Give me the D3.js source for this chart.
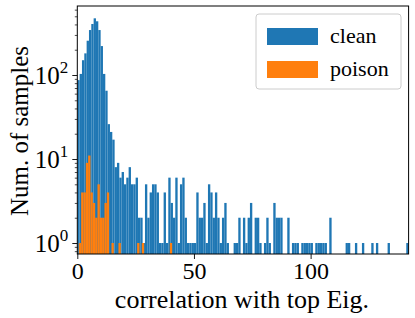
<!DOCTYPE html>
<html>
<head>
<meta charset="utf-8">
<script src="https://cdn.jsdelivr.net/npm/d3@7"></script>
<style>
  html, body { margin: 0; padding: 0; background: #fff; }
  svg { display: block; }
  text { font-family: "Liberation Serif", "Times New Roman", serif; fill: #000; }
</style>
</head>
<body>
<svg id="chart" width="415" height="318"></svg>
<script>
// ---- data ----
// clean histogram: counts per bin (bin width 1, starting at cleanStart)
const cleanStart = 0.0;
const cleanCounts = [
  87,103,150,181,256,343,405,473,436,343,
  221,103,65,26,21,17,8,9,6,7,
  5,6,8,5,5,6,2,2,1,5,
  2,4,5,5,4,1,1,4,1,6,
  3,2,6,1,5,6,2,1,1,1,
  1,4,2,2,3,1,5,4,2,4,
  2,1,2,3,1,0,0,1,1,2,
  0,2,1,2,3,0,2,2,1,0,
  1,2,1,0,3,2,2,2,0,0,
  2,0,1,1,1,0,1,1,1,1,
  1,0,1,1,1,1,1,0,2,0,
  0,0,0,0,0,1,1,0,0,1,
  0,0,1,0,0,0,1,0,1,0,
  0,0,0,1,0,0,0,0,0,0,
  0,1
];
// poison histogram: counts per bin (bin width 1, starting at poisonStart)
const poisonStart = 0.65;
const poisonCounts = [
  1,4,4,9,11,4,3,2,5,2,
  2,3,4,0,1,0,0,1,0,0,
  0,0,0,0,0,1,0,1,0,0,
  0,0,0,0,0,0,0,0,0,1
];
const binWidth = 1.0;
const xTicks = [0, 50, 100];
const yMajorTicks = [1, 10, 100];
const yTickExp = ["0", "1", "2"];
const seriesNames = ["clean", "poison"];
const seriesColors = ["#1f77b4", "#ff7f0e"];
const xLabel = "correlation with top Eig.";
const yLabel = "Num. of samples";

// ---- layout ----
const svg = d3.select("#chart");
const L = 77.3, R = 408.6, T = 6, B = 254;

const x = d3.scaleLinear().domain([0, 142]).range([L, R]);
const y = d3.scaleLog().domain([0.74, 663]).range([B, T]);

svg.append("clipPath").attr("id", "clip")
  .append("rect").attr("x", L).attr("y", T).attr("width", R - L).attr("height", B - T);

const plot = svg.append("g").attr("clip-path", "url(#clip)");

function drawSeries(counts, start, color) {
  const data = counts.map((c, i) => ({x0: start + i * binWidth, x1: start + (i + 1) * binWidth, c}))
    .filter(d => d.c > 0);
  plot.append("g").selectAll("rect").data(data).join("rect")
    .attr("x", d => x(d.x0))
    .attr("width", d => x(d.x1) - x(d.x0))
    .attr("y", d => y(d.c))
    .attr("height", d => B - y(d.c))
    .attr("fill", color);
}
drawSeries(cleanCounts, cleanStart, seriesColors[0]);
drawSeries(poisonCounts, poisonStart, seriesColors[1]);

// ---- axes ----
const xAxis = d3.axisBottom(x).tickValues(xTicks).tickSize(5).tickPadding(2).tickFormat(d3.format("d"));
const gx = svg.append("g").attr("transform", `translate(0,${B})`).call(xAxis);
gx.select(".domain").remove();
gx.selectAll("text").attr("font-size", 24).attr("dy", "0.76em")
  .style("font-family", '"Liberation Serif", "Times New Roman", serif');
gx.selectAll("line").attr("stroke", "#000").attr("stroke-width", 0.9);

// minor y ticks
const minor = [];
[0.1, 1, 10, 100].forEach(dec => {
  for (let k = 2; k <= 9; k++) {
    const v = dec * k;
    if (v >= 0.74 && v <= 663) minor.push(v);
  }
});
const gyMinor = svg.append("g").attr("transform", `translate(${L},0)`)
  .call(d3.axisLeft(y).tickValues(minor).tickSize(2.5).tickFormat(""));
gyMinor.select(".domain").remove();
gyMinor.selectAll("line").attr("stroke", "#000").attr("stroke-width", 0.7);

const gy = svg.append("g").attr("transform", `translate(${L},0)`)
  .call(d3.axisLeft(y).tickValues(yMajorTicks).tickSize(5).tickFormat(""));
gy.select(".domain").remove();
gy.selectAll("line").attr("stroke", "#000").attr("stroke-width", 0.9);

// y tick labels 10^n
yMajorTicks.forEach((v, i) => {
  const t = svg.append("text")
    .attr("x", L - 9).attr("y", y(v) + 9)
    .attr("text-anchor", "end")
    .attr("font-size", 25);
  t.append("tspan").text("10");
  t.append("tspan").attr("font-size", 17).attr("dy", -11).text(yTickExp[i]);
});

// frame
svg.append("rect").attr("x", L).attr("y", T).attr("width", R - L).attr("height", B - T)
  .attr("fill", "none").attr("stroke", "#000").attr("stroke-width", 1);

// axis labels
svg.append("text").attr("x", (L + R) / 2 - 1).attr("y", 308)
  .attr("text-anchor", "middle").attr("font-size", 26).text(xLabel);
svg.append("text").attr("transform", "translate(28,131) rotate(-90)")
  .attr("text-anchor", "middle").attr("font-size", 25).text(yLabel);

// legend
const lg = svg.append("g");
lg.append("rect").attr("x", 256).attr("y", 14).attr("width", 145).attr("height", 75)
  .attr("rx", 3).attr("fill", "#fff").attr("fill-opacity", 0.8)
  .attr("stroke", "#ccc").attr("stroke-width", 1);
seriesNames.forEach((name, i) => {
  const yy = 28 + i * 33;
  lg.append("rect").attr("x", 267).attr("y", yy).attr("width", 51).attr("height", 17)
    .attr("fill", seriesColors[i]);
  lg.append("text").attr("x", 330).attr("y", yy + 15).attr("font-size", 22).text(name);
});
</script>
</body>
</html>
